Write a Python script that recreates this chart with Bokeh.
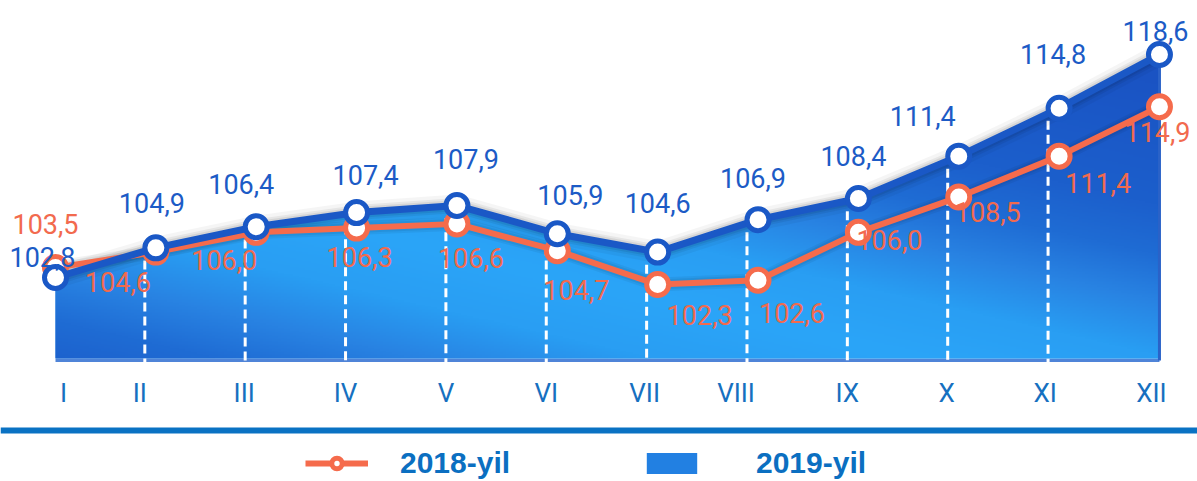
import numpy as np
from bokeh.plotting import figure
from bokeh.models import ColumnDataSource, Span, Legend, LegendItem, Range1d
from bokeh.core.properties import value
from bokeh.embed import file_html
from bokeh.resources import INLINE

# ---------------- data ----------------
months = ["I", "II", "III", "IV", "V", "VI", "VII", "VIII", "IX", "X", "XI", "XII"]
y2018 = [103.5, 104.6, 106.0, 106.3, 106.6, 104.7, 102.3, 102.6, 106.0, 108.5, 111.4, 114.9]
y2019 = [102.8, 104.9, 106.4, 107.4, 107.9, 105.9, 104.6, 106.9, 108.4, 111.4, 114.8, 118.6]
series_names = ["2018-yil", "2019-yil"]

# ---------------- label placement (styling, screen px) ----------------
blue_dx = [-13, -4, -15, 9, 9, 13, 0, -5, -5, -36, -6, -4]
blue_dy = [-20, -45, -43, -38, -47, -39, -49, -42, -42, -40, -54, -24]
orange_dx = [-10, -38, -32, 3, 14, 19, 42, 34, 31, 29, 39, -2]
orange_dy = [-44, 30, 28, 29, 34, 39, 30, 33, 8, 15, 27, 25]
month_dx = [8, -16, -12, -11, -11, -11, -13, -22, -11, -12, -14, -8]

BLUE = "#1a58c6"
ORANGE = "#f56b4c"
TXT_BLUE = "#1c5bc6"
TXT_ORANGE = "#f26a4e"
AXIS_BLUE = "#1670c0"
FONT = value("Roboto")

idx = list(range(len(months)))
BASE = 97.06          # bottom of the filled area
Y0, Y1 = 88.342, 122.431
X0, X1 = -0.548, 11.379

p = figure(width=1197, height=481, output_backend="svg", toolbar_location=None,
           x_range=Range1d(X0, X1), y_range=Range1d(Y0, Y1),
           x_axis_location=None, y_axis_location=None, min_border=0,
           background_fill_color="white", border_fill_color="white")
p.outline_line_color = None
p.grid.visible = False

src = ColumnDataSource(dict(x=idx, y18=y2018, y19=y2019, base=[BASE] * len(idx),
                            l18=[f"{v:.1f}".replace(".", ",") for v in y2018],
                            l19=[f"{v:.1f}".replace(".", ",") for v in y2019],
                            bdx=blue_dx, bdy=blue_dy, odx=orange_dx, ody=orange_dy,
                            mask_top=[Y1 + 2] * len(idx)))

# 2019 area (solid, then overlaid by a gradient image masked above the line)
r_area = p.varea(x="x", y1="base", y2="y19", source=src, fill_color="#2280e2")

top = max(y2019) + 1.0
nx, ny = 368, 220
xs = (np.arange(nx) + 0.5) * (11.0 / nx)
ys = BASE + (np.arange(ny) + 0.5) * (top - BASE) / ny
X, Y = np.meshgrid(xs, ys)
px = 55 + 100.36 * X
py = 277 - 14.11 * (Y - 102.8)
d = np.abs(py - (240 + 0.23 * (px - 400)))
sd = [0, 60, 115, 160, 210, 330, 600]
R = np.interp(d, sd, [43, 41, 40, 31, 28, 26, 26])
G = np.interp(d, sd, [165, 158, 130, 108, 95, 84, 82])
B = np.interp(d, sd, [248, 243, 226, 212, 204, 196, 195])
rgba = np.zeros((ny, nx, 4), dtype=np.uint8)
rgba[..., 0] = R.astype(np.uint8)
rgba[..., 1] = G.astype(np.uint8)
rgba[..., 2] = B.astype(np.uint8)
rgba[..., 3] = 255
img = rgba.view(np.uint32).reshape(ny, nx)
p.image_rgba(image=[img], x=0, y=BASE, dw=11, dh=top - BASE)
p.varea(x="x", y1="y19", y2="mask_top", source=src, fill_color="white")
# clean the mask's side edges
p.segment(x0=[0, 11], y0=[y2019[0], y2019[-1]], x1=[0, 11], y1=[Y1 + 2, Y1 + 2],
          line_color="white", line_width=3)

# bottom edge and right edge of area
p.segment(x0=[0], y0=[BASE - 0.15], x1=[11], y1=[BASE - 0.15], line_color="#4f84d8", line_width=3)
p.segment(x0=[11], y0=[BASE - 0.15], x1=[11], y1=[y2019[-1]], line_color="#2a62c8", line_width=3)

# dashed white verticals
dash_x = [i - 0.11 for i in idx[1:-1]]
p.segment(x0=dash_x, y0=[v - 0.9 for v in y2019[1:-1]], x1=dash_x, y1=[BASE - 0.3] * len(dash_x),
          line_color="white", line_width=3, line_dash="9 5")

# soft shadows
for w, a in [(22, 0.04), (15, 0.06), (11, 0.07)]:
    p.line("x", "y19", source=src, line_color="black", line_alpha=a, line_width=w, line_join="round")
for w, a in [(14, 0.05), (10, 0.06)]:
    p.line("x", "y18", source=src, line_color="black", line_alpha=a, line_width=w, line_join="round")

# 2018 series
r18_line = p.line("x", "y18", source=src, line_color=ORANGE, line_width=6, line_join="round")
r18_mark = p.scatter("x", "y18", source=src, size=22, fill_color="white", line_color=ORANGE, line_width=5)

# 2019 series
p.line("x", "y19", source=src, line_color=BLUE, line_width=7, line_join="round")
p.scatter("x", "y19", source=src, size=22, fill_color="white", line_color=BLUE, line_width=5)

# value labels
p.text("x", "y18", text="l18", source=src, x_offset="odx", y_offset="ody",
       text_font=FONT, text_font_size="27px", text_color=TXT_ORANGE,
       text_align="center", text_baseline="middle")
p.text("x", "y19", text="l19", source=src, x_offset="bdx", y_offset="bdy",
       text_font=FONT, text_font_size="27px", text_color=TXT_BLUE,
       text_align="center", text_baseline="middle")

# month labels
p.text(x=idx, y=[94.58] * len(idx), text=months, x_offset=month_dx,
       text_font=FONT, text_font_size="26px", text_color=AXIS_BLUE,
       text_align="center", text_baseline="middle")

# horizontal rule
p.add_layout(Span(location=91.96, dimension="width", line_color="#0a72c3", line_width=6))

common = dict(orientation="horizontal", padding=0, margin=0, border_line_alpha=0,
              background_fill_alpha=0, glyph_height=26, label_text_font="Liberation Sans",
              label_text_font_size="30px", label_text_font_style="bold", label_text_color="#0b6fc1",
              glyph_width=63)
leg1 = Legend(items=[LegendItem(label=series_names[0], renderers=[r18_line, r18_mark])],
              location=(305, 1), label_standoff=32, **common)
leg2 = Legend(items=[LegendItem(label=series_names[1], renderers=[r_area])],
              location=(640, 1), label_standoff=53, **common)
p.add_layout(leg1)
p.add_layout(leg2)

open("out.html", "w").write(file_html(p, INLINE))
